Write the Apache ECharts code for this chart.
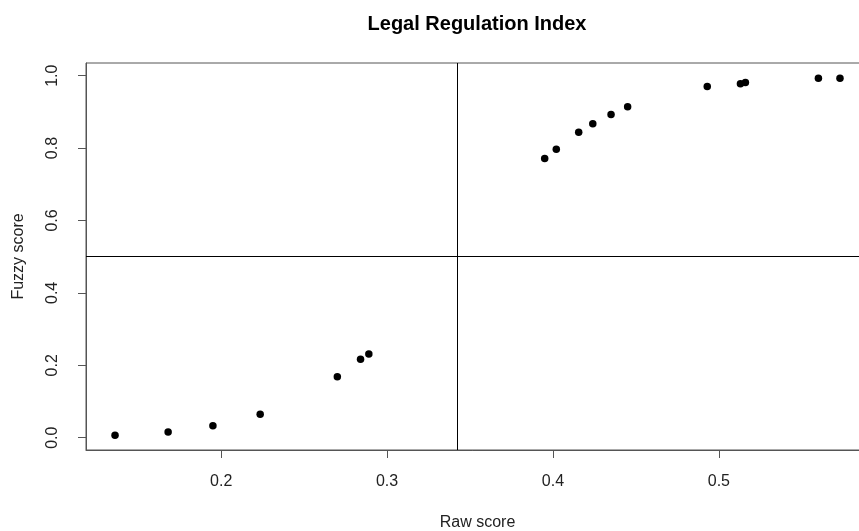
<!DOCTYPE html>
<html>
<head>
<meta charset="utf-8">
<script src="https://cdn.jsdelivr.net/npm/echarts@6/dist/echarts.min.js"></script>
<style>
  html, body { margin: 0; padding: 0; background: #fff; }
  #chart { width: 859px; height: 531px; }
</style>
</head>
<body>
<div id="chart"></div>
<script>
// Raw scores and their calibrated fuzzy-set membership scores
const rawScore = [0.136, 0.168, 0.195, 0.2235, 0.270, 0.284, 0.289,
                  0.395, 0.402, 0.4155, 0.424, 0.435, 0.445,
                  0.493, 0.513, 0.516, 0.560, 0.573];
const fuzzyScore = [0.007, 0.016, 0.033, 0.065, 0.168, 0.217, 0.231,
                    0.771, 0.797, 0.844, 0.867, 0.893, 0.914,
                    0.970, 0.978, 0.981, 0.993, 0.993];

// Crossover thresholds
const rawCrossover = 0.342;
const fuzzyCrossover = 0.5;

// Tick positions
const xTicks = [0.2, 0.3, 0.4, 0.5];
const yTicks = [0.0, 0.2, 0.4, 0.6, 0.8, 1.0];

const points = rawScore.map((x, i) => [x, fuzzyScore[i]]);

const FONT = '"Liberation Sans", Arial, sans-serif';
const AXIS_COLOR = '#555';
const TEXT_COLOR = '#222';

const chart = echarts.init(document.getElementById('chart'));
chart.setOption({
  animation: false,
  backgroundColor: '#fff',
  title: {
    text: 'Legal Regulation Index',
    left: 472,
    top: 9,
    textAlign: 'center',
    textStyle: { fontFamily: FONT, fontSize: 20, fontWeight: 'bold', color: '#000' }
  },
  // plot region runs slightly past the right edge of the canvas
  grid: {
    left: 86, top: 63, width: 783, height: 387,
    outerBoundsMode: 'none',
    containLabel: false,
    show: true, borderColor: AXIS_COLOR, borderWidth: 1
  },
  xAxis: {
    type: 'value',
    min: 0.1185, max: 0.5905,
    name: 'Raw score',
    nameLocation: 'middle',
    nameGap: 65,
    nameTextStyle: { fontFamily: FONT, fontSize: 16, color: TEXT_COLOR },
    axisLine: { show: true, onZero: false, lineStyle: { color: AXIS_COLOR, width: 1 } },
    axisTick: { show: true, inside: false, length: 8, customValues: xTicks,
                lineStyle: { color: AXIS_COLOR } },
    axisLabel: { customValues: xTicks, margin: 24, fontFamily: FONT, fontSize: 16, color: TEXT_COLOR,
                 formatter: v => v.toFixed(1) },
    splitLine: { show: false }
  },
  yAxis: {
    type: 'value',
    min: -0.034, max: 1.035,
    name: 'Fuzzy score',
    nameLocation: 'middle',
    nameGap: 59,
    nameTextStyle: { fontFamily: FONT, fontSize: 16, color: TEXT_COLOR },
    axisLine: { show: true, onZero: false, lineStyle: { color: AXIS_COLOR, width: 1 } },
    axisTick: { show: true, inside: false, length: 8, customValues: yTicks,
                lineStyle: { color: AXIS_COLOR } },
    axisLabel: { customValues: yTicks, rotate: 90, margin: 25, fontFamily: FONT, fontSize: 16, color: TEXT_COLOR,
                 formatter: v => v.toFixed(1) },
    splitLine: { show: false }
  },
  series: [{
    type: 'scatter',
    data: points,
    symbol: 'circle',
    symbolSize: 7.5,
    itemStyle: { color: '#000', opacity: 1 },
    markLine: {
      silent: true,
      symbol: 'none',
      precision: 4,
      label: { show: false },
      lineStyle: { color: '#000', width: 1, type: 'solid' },
      data: [{ xAxis: rawCrossover }, { yAxis: fuzzyCrossover }]
    }
  }]
});
</script>
</body>
</html>
